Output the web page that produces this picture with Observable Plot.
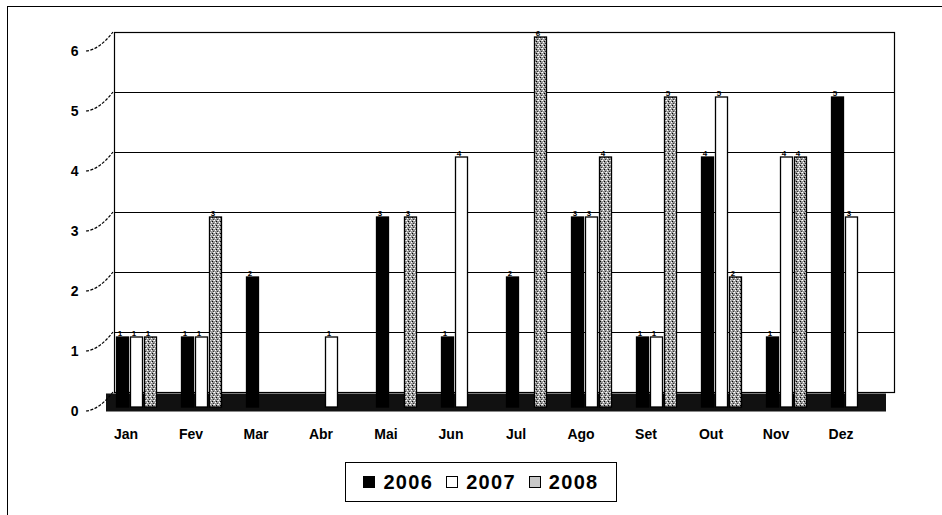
<!DOCTYPE html>
<html>
<head>
<meta charset="utf-8">
<script src="https://cdn.jsdelivr.net/npm/d3@7"></script>
<script src="https://cdn.jsdelivr.net/npm/@observablehq/plot@0.6"></script>
<style>
  html, body { margin: 0; padding: 0; background: #fff; }
  body { width: 942px; height: 515px; position: relative; overflow: hidden;
         font-family: "Liberation Sans", Arial, sans-serif; }
  .frame { position: absolute; left: 7px; top: 6px; width: 935px; height: 520px;
           border-left: 1.5px solid #000; border-top: 1.5px solid #000; box-sizing: border-box; }
  #chart { position: absolute; left: 0; top: 0; }
  .legend { position: absolute; left: 345px; top: 462px; width: 272px; height: 40px;
            border: 1.5px solid #000; box-sizing: border-box;
            display: flex; align-items: center; justify-content: center; gap: 13px;
            font-weight: bold; font-size: 20px; letter-spacing: 1.3px; color: #000; }
  .legend span.item { display: inline-flex; align-items: center; gap: 8px; }
  .legend span.sw { display: inline-block; width: 12px; height: 12px; border: 1.5px solid #000; box-sizing: border-box; }
</style>
</head>
<body>
<div class="frame"></div>
<div id="chart"></div>
<div class="legend" id="legend"></div>
<script>
// Months (Portuguese) and yearly counts
const months = ["Jan", "Fev", "Mar", "Abr", "Mai", "Jun", "Jul", "Ago", "Set", "Out", "Nov", "Dez"];
const years = ["2006", "2007", "2008"];
const v2006 = [1, 1, 2, 0, 3, 1, 2, 3, 1, 4, 1, 5];
const v2007 = [1, 1, 0, 1, 0, 4, 0, 3, 1, 5, 4, 3];
const v2008 = [1, 3, 0, 0, 3, 0, 6, 4, 5, 2, 4, 0];
const yTicks = [0, 1, 2, 3, 4, 5, 6];

const series = [v2006, v2007, v2008];
const fills = ["#000", "#fff", "url(#stipple)"];

const marginLeft = 104;
const bandStep = (942 - marginLeft - 58) / months.length;
const barW = 12;
const barStep = 14;
const inset = (bandStep - barW) / 2;

// one row per month for each year; empty months are skipped
const rowsFor = (vals, year) =>
  months.map((m, i) => ({month: m, year, value: vals[i]})).filter(d => d.value > 0);

// dashed leader lines from each y label up to its gridline on the back wall
const leaders = Plot.ruleY(yTicks, {
  render(index, scales, values, dimensions) {
    const g = d3.create("svg:g").attr("fill", "none").attr("stroke", "#000")
      .attr("stroke-width", 1.2).attr("stroke-dasharray", "3,1.5");
    for (const i of index) {
      const y = scales.y(yTicks[i]);
      const x0 = dimensions.marginLeft - 18, y0 = y + 14;
      const x1 = dimensions.marginLeft + 9, y1 = y - 5;
      g.append("path").attr("d", `M${x0},${y0} Q${x0 + 13},${y0 - 1} ${x1},${y1}`);
    }
    return g.node();
  }
});

const barMarks = series.flatMap((vals, k) => {
  const rows = rowsFor(vals, years[k]);
  const dx = (k - 1) * barStep;
  return [
    Plot.barY(rows, {
      x: "month", y: "value", fill: fills[k], stroke: "#000", strokeWidth: 1.3,
      insetLeft: inset, insetRight: inset, insetBottom: -10, dx
    }),
    Plot.text(rows, {
      x: "month", y: "value", text: d => String(d.value), dx: dx - 3, dy: -4,
      fontSize: 8, fontWeight: "bold", fill: "#000"
    })
  ];
});

const chart = Plot.plot({
  width: 942,
  height: 452,
  marginLeft,
  marginRight: 58,
  marginTop: 37,
  marginBottom: 55,
  style: {fontFamily: "'Liberation Sans', Arial, sans-serif", color: "#000", background: "transparent"},
  x: {type: "band", domain: months, padding: 0, label: null},
  y: {domain: [0, 6], label: null},
  marks: [
    // back wall and its gridlines
    Plot.frame({stroke: "#000", strokeWidth: 1.2, dx: 10, dy: -5}),
    Plot.ruleY([1, 2, 3, 4, 5], {stroke: "#000", strokeWidth: 1.2, dx: 10, dy: -5}),
    // floor
    Plot.ruleY([0], {stroke: "#111", strokeWidth: 18, dx: 2, dy: 5}),
    leaders,
    ...barMarks,
    Plot.axisX({tickSize: 0, tickPadding: 32, dx: -11, fontSize: 14, fontWeight: "bold",
                letterSpacing: 1.2, label: null}),
    Plot.axisY({ticks: yTicks, tickFormat: d3.format("d"), tickSize: 0, tickPadding: 26, dy: 14,
                fontSize: 14, fontWeight: "bold", label: null})
  ]
});

// stipple texture used by the 2008 bars
const defs = d3.select(chart).insert("defs", ":first-child");
const pat = defs.append("pattern").attr("id", "stipple")
  .attr("patternUnits", "userSpaceOnUse").attr("width", 4).attr("height", 4);
pat.append("rect").attr("width", 4).attr("height", 4).attr("fill", "#9a9a9a");
pat.append("rect").attr("x", 0).attr("y", 0).attr("width", 1).attr("height", 1).attr("fill", "#fff");
pat.append("rect").attr("x", 2).attr("y", 1).attr("width", 1).attr("height", 1).attr("fill", "#000");
pat.append("rect").attr("x", 1).attr("y", 2).attr("width", 1).attr("height", 1).attr("fill", "#fff");
pat.append("rect").attr("x", 3).attr("y", 3).attr("width", 1).attr("height", 1).attr("fill", "#333");
pat.append("rect").attr("x", 3).attr("y", 0).attr("width", 1).attr("height", 1).attr("fill", "#ddd");

document.getElementById("chart").appendChild(chart);

// legend
const legend = d3.select("#legend");
const swatchFill = ["#000", "#fff", "#c8c8c8"];
years.forEach((y, k) => {
  const item = legend.append("span").attr("class", "item");
  item.append("span").attr("class", "sw").style("background", swatchFill[k]);
  item.append("span").text(y);
});
</script>
</body>
</html>
